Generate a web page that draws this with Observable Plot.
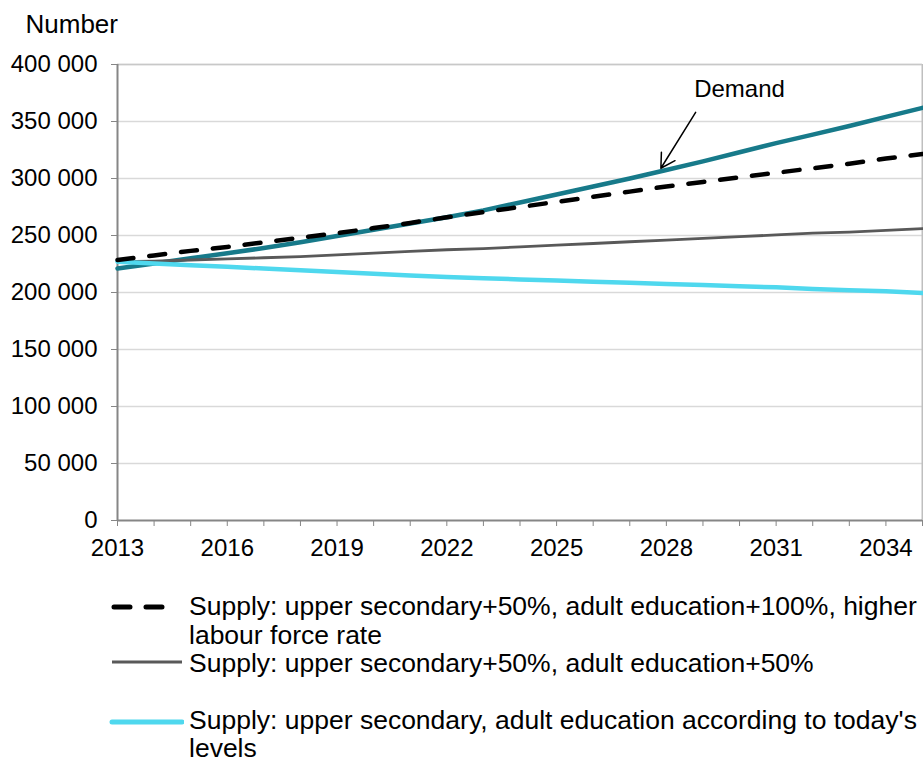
<!DOCTYPE html>
<html>
<head>
<meta charset="utf-8">
<script src="https://cdn.jsdelivr.net/npm/d3@7"></script>
<script src="https://cdn.jsdelivr.net/npm/@observablehq/plot@0.6"></script>
<style>
  html, body { margin: 0; padding: 0; background: #fff; }
  body { width: 923px; height: 762px; position: relative; overflow: hidden;
         font-family: "Liberation Sans", Arial, sans-serif; color: #000; }
  #chart { position: absolute; left: 0; top: 0; }
  .leg { position: absolute; font-size: 26.5px; line-height: 29px; white-space: nowrap; }
  .sw { position: absolute; }
</style>
</head>
<body>
<div id="chart"></div>
<svg class="sw" style="left:108px;top:597px" width="76" height="20"><line x1="6" x2="70" y1="10" y2="10" stroke="#000" stroke-width="5" stroke-dasharray="16,16" stroke-linecap="round"/></svg>
<div class="leg" style="left:189px;top:592px">Supply: upper secondary+50%, adult education+100%, higher<br>labour force rate</div>
<svg class="sw" style="left:108px;top:652px" width="76" height="20"><line x1="4" x2="74" y1="10" y2="10" stroke="#595959" stroke-width="3"/></svg>
<div class="leg" style="left:189px;top:650px;line-height:26px">Supply: upper secondary+50%, adult education+50%</div>
<svg class="sw" style="left:108px;top:712px" width="76" height="20"><line x1="4" x2="74" y1="10" y2="10" stroke="#4fd8ee" stroke-width="5" stroke-linecap="round"/></svg>
<div class="leg" style="left:189px;top:707px;line-height:27.5px">Supply: upper secondary, adult education according to today's<br>levels</div>
<script>
const years = [2013,2014,2015,2016,2017,2018,2019,2020,2021,2022,2023,2024,2025,2026,2027,2028,2029,2030,2031,2032,2033,2034,2035];
const demand = [221000,225500,230000,234500,239000,244000,249500,255000,260500,266000,272000,279000,286000,293000,300000,307500,315000,323000,331000,338500,346000,354000,362000];
const supplyHigh = [228500,232500,236500,240000,244000,248000,252000,256500,261000,266000,270500,275000,279500,284000,288500,293000,297000,301000,305000,309000,313000,317500,321500];
const supplyMid = [227000,227500,228500,229500,230500,231500,233000,234500,236000,237500,238500,240000,241500,243000,244500,246000,247500,249000,250500,252000,253000,254500,256000];
const supplyToday = [227000,225500,224000,222500,221000,219500,218000,216500,215000,213500,212500,211500,210500,209500,208500,207500,206500,205500,204500,203000,202000,201000,199500];
const yTicks = [0,50000,100000,150000,200000,250000,300000,350000,400000];
const xLabelYears = [2013,2016,2019,2022,2025,2028,2031,2034];
const annotation = [{label: "Demand", textYear: 2030.0, textValue: 378000, tailYear: 2028.8, tailValue: 358000, tipYear: 2027.85, tipValue: 309000}];

const rows = (vals) => years.map((yr, i) => ({year: yr, value: vals[i]}));
const fmt = (d) => d3.format(",")(d).replace(/,/g, " ");
const FONT = "Liberation Sans, Arial, sans-serif";

const chart = Plot.plot({
  width: 923,
  height: 582,
  marginLeft: 117,
  marginRight: 1,
  marginTop: 64,
  marginBottom: 62,
  style: {fontFamily: FONT, fontSize: "23.5px", background: "#fff", color: "#000"},
  x: {domain: [2013, 2035], axis: null},
  y: {domain: [0, 400000], axis: null},
  marks: [
    Plot.gridY(yTicks.filter(d => d > 0), {stroke: "#d9d9d9", strokeOpacity: 1, strokeWidth: 1.5}),
    Plot.ruleX([2035], {stroke: "#bfbfbf", strokeWidth: 2}),
    Plot.ruleY([400000], {stroke: "#c8c8c8", strokeWidth: 1.5}),
    Plot.axisY({ticks: yTicks, tickFormat: fmt, tickSize: 6, tickPadding: 14, stroke: "#868686", fill: "#000", label: null, fontSize: "24px"}),
    Plot.axisX({ticks: years, tickFormat: d => xLabelYears.includes(d) ? String(d) : "", tickSize: 6, tickPadding: 12, stroke: "#868686", fill: "#000", label: null, fontSize: "24px"}),
    Plot.ruleX([2013], {stroke: "#868686", strokeWidth: 2}),
    Plot.ruleY([0], {stroke: "#868686", strokeWidth: 2}),
    Plot.line(rows(demand), {x: "year", y: "value", stroke: "#177a8a", strokeWidth: 4.5}),
    Plot.line(rows(supplyMid), {x: "year", y: "value", stroke: "#595959", strokeWidth: 2.8}),
    Plot.line(rows(supplyToday), {x: "year", y: "value", stroke: "#4fd8ee", strokeWidth: 4.5}),
    Plot.line(rows(supplyHigh), {x: "year", y: "value", stroke: "#000", strokeWidth: 4.5, strokeDasharray: "16,16", strokeLinecap: "round"}),
    Plot.arrow(annotation, {x1: "tailYear", y1: "tailValue", x2: "tipYear", y2: "tipValue", stroke: "#000", strokeWidth: 1.5, headLength: 16}),
    Plot.text(annotation, {x: "textYear", y: "textValue", text: "label", fontSize: 24, fill: "#000"}),
    Plot.text(["Number"], {text: d => d, frameAnchor: "top-left", dx: -92, dy: -50, textAnchor: "start", fontSize: 26, fill: "#000"})
  ]
});
document.getElementById("chart").appendChild(chart);
</script>
</body>
</html>
